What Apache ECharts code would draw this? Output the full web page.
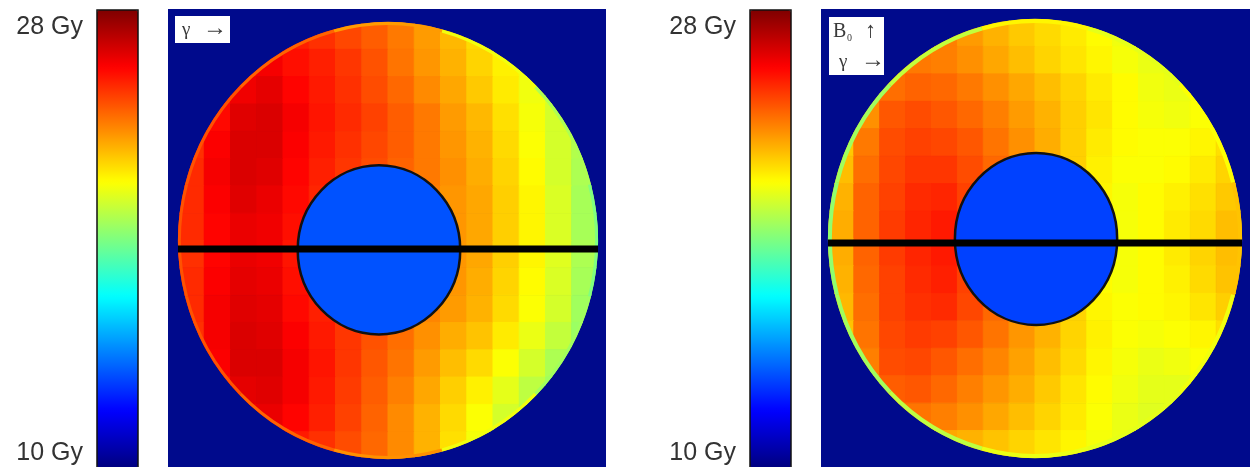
<!DOCTYPE html>
<html>
<head>
<meta charset="utf-8">
<script src="https://cdn.jsdelivr.net/npm/echarts@6/dist/echarts.min.js"></script>
</head>
<body style="margin: 0; background: #fff">
<div id="container" style="width: 1250px; height: 467px"></div>
<script>
// dose scale of both colour bars (Gy) and the two labelled ticks
const doseMin = 10;
const doseMax = 28;
const cbarTicks = [10, 28];

// disk radius in map units, dose grid of 16 x 16 cells across the disk, rows top -> bottom
const diskR = 10;
const _ = null;
const doseLeft = [
  [_, _, _, _, 25.2, 24.9, 24.5, 24.1, 23.6, 23.0, 22.5, 21.9, _, _, _, _],
  [_, _, 25.6, 25.9, 25.5, 25.2, 24.8, 24.3, 23.7, 23.1, 22.6, 22.0, 21.5, 21.0, _, _],
  [_, 25.4, 26.0, 26.2, 25.7, 25.3, 24.9, 24.4, 23.9, 23.3, 22.8, 22.2, 21.6, 21.0, 20.6, _],
  [_, 25.6, 26.3, 26.4, 25.9, 25.4, 25.0, 24.6, 24.1, 23.6, 23.0, 22.5, 21.8, 21.1, 20.5, _],
  [24.9, 25.8, 26.4, 26.4, 25.8, 25.3, 24.9, 24.5, 24.1, 23.6, 23.1, 22.6, 21.9, 21.2, 20.5, 19.9],
  [25.0, 25.9, 26.4, 26.3, 25.7, 25.2, 24.8, 24.4, 24.0, 23.6, 23.2, 22.7, 22.0, 21.3, 20.5, 19.8],
  [25.0, 25.8, 26.3, 26.1, 25.6, 25.1, 24.7, 24.3, 23.9, 23.5, 23.1, 22.8, 22.1, 21.4, 20.6, 19.7],
  [25.0, 25.7, 26.1, 26.0, 25.5, 25.1, 24.7, 24.3, 23.9, 23.5, 23.1, 22.8, 22.1, 21.4, 20.6, 19.7],
  [24.9, 25.7, 26.1, 26.0, 25.4, 25.1, 24.7, 24.3, 23.9, 23.5, 23.1, 22.8, 22.1, 21.4, 20.7, 19.8],
  [25.0, 25.8, 26.2, 26.1, 25.5, 25.1, 24.7, 24.3, 23.9, 23.5, 23.1, 22.7, 22.0, 21.3, 20.6, 19.7],
  [25.0, 25.9, 26.3, 26.2, 25.6, 25.2, 24.7, 24.3, 23.9, 23.4, 23.0, 22.6, 21.9, 21.2, 20.5, 19.6],
  [24.9, 25.9, 26.4, 26.3, 25.8, 25.3, 24.8, 24.3, 23.8, 23.2, 22.7, 22.3, 21.6, 20.9, 20.2, 19.5],
  [_, 25.8, 26.4, 26.4, 25.9, 25.4, 24.8, 24.2, 23.7, 23.0, 22.4, 21.9, 21.2, 20.5, 19.8, _],
  [_, 25.5, 26.2, 26.3, 25.9, 25.3, 24.7, 24.1, 23.5, 22.8, 22.1, 21.5, 20.8, 20.1, 19.6, _],
  [_, _, 25.9, 26.1, 25.7, 25.2, 24.6, 24.0, 23.3, 22.6, 21.9, 21.2, 20.5, 19.9, _, _],
  [_, _, _, _, 25.3, 24.9, 24.4, 23.9, 23.3, 22.6, 21.8, 21.1, _, _, _, _]
];
const doseRight = [
  [_, _, _, _, 23.5, 23.0, 22.6, 22.2, 21.9, 21.6, 21.3, 21.0, _, _, _, _],
  [_, _, 23.2, 23.6, 23.5, 23.2, 22.8, 22.4, 22.0, 21.7, 21.4, 21.1, 20.9, 20.8, _, _],
  [_, 22.8, 23.8, 24.0, 23.9, 23.6, 23.2, 22.8, 22.4, 22.0, 21.6, 21.3, 21.0, 20.9, 20.8, _],
  [_, 23.2, 24.2, 24.4, 24.2, 23.9, 23.5, 23.0, 22.6, 22.1, 21.7, 21.3, 21.1, 21.0, 21.2, _],
  [22.2, 23.6, 24.4, 24.6, 24.5, 24.2, 23.7, 23.2, 22.7, 22.1, 21.6, 21.3, 21.2, 21.2, 21.4, 21.8],
  [22.4, 23.8, 24.5, 24.8, 24.8, 24.4, 23.9, 23.3, 22.7, 22.1, 21.5, 21.2, 21.2, 21.3, 21.6, 22.0],
  [22.6, 24.0, 24.6, 25.0, 25.1, 24.6, 23.9, 23.2, 22.5, 21.9, 21.4, 21.1, 21.3, 21.5, 21.8, 22.2],
  [22.7, 24.0, 24.7, 25.1, 25.3, 24.6, 23.9, 23.2, 22.5, 21.9, 21.3, 21.1, 21.3, 21.6, 21.9, 22.4],
  [22.7, 24.0, 24.7, 25.1, 25.3, 24.6, 23.9, 23.2, 22.5, 21.9, 21.3, 21.1, 21.3, 21.6, 22.0, 22.4],
  [22.6, 23.9, 24.6, 25.0, 25.2, 24.6, 23.9, 23.2, 22.5, 21.9, 21.3, 21.1, 21.3, 21.5, 21.9, 22.3],
  [22.5, 23.8, 24.6, 24.9, 25.0, 24.5, 23.9, 23.2, 22.6, 22.0, 21.4, 21.2, 21.3, 21.4, 21.7, 22.1],
  [22.3, 23.7, 24.5, 24.7, 24.6, 24.2, 23.7, 23.1, 22.6, 22.0, 21.5, 21.2, 21.1, 21.2, 21.4, 21.8],
  [_, 23.5, 24.4, 24.5, 24.2, 23.8, 23.4, 22.9, 22.4, 21.9, 21.4, 21.1, 20.9, 21.0, 21.2, _],
  [_, 23.2, 24.1, 24.2, 23.9, 23.5, 23.1, 22.7, 22.2, 21.7, 21.3, 21.0, 20.8, 20.8, 21.0, _],
  [_, _, 23.5, 23.7, 23.5, 23.2, 22.8, 22.4, 22.0, 21.6, 21.2, 20.9, 20.7, 20.7, _, _],
  [_, _, _, _, 22.8, 22.6, 22.3, 22.0, 21.7, 21.4, 21.1, 20.9, _, _, _, _]
];

// dose along the disk edge, 12 sectors of 30 deg, starting at 3 o'clock, counter-clockwise
const rimLeft = [19.0, 19.8, 21.0, 23.0, 24.0, 24.3, 24.3, 24.3, 24.0, 23.2, 21.0, 19.6];
const rimRight = [22.3, 21.2, 20.8, 21.4, 20.2, 19.6, 19.3, 19.6, 20.1, 20.9, 20.8, 21.0];

// inner insert: centre x, centre y, radius (map units) and its dose
const innerLeft = [-0.43, -0.43, 3.87, 13.7];
const innerRight = [0.05, -0.02, 3.92, 13.4];

// height of the black profile line
const profileY = [-0.39, -0.2];

const jet = ['#00007f', '#0000ff', '#007fff', '#00ffff', '#7fff7f', '#ffff00', '#ff7f00', '#ff0000', '#7f0000'];

// where each map sits on the page (px): panel box and disk centre / radii
const panels = [
  {left: 168, top: 9, width: 438, height: 458, cx: 388, cy: 240.5, rx: 210, ry: 218.5, rimW: 3, bar: 97},
  {left: 821, top: 9, width: 429, height: 458, cx: 1035, cy: 238.5, rx: 207, ry: 219.5, rimW: 4, bar: 750}
];

const cell = 2 * diskR / doseLeft[0].length;

function cellData(grid) {
  const out = [];
  grid.forEach((row, r) => {
    row.forEach((v, c) => {
      if (v !== null) out.push([-diskR + cell * (c + 0.5), diskR - cell * (r + 0.5), v]);
    });
  });
  return out;
}

function rimData(rim) {
  return rim.map((v, i) => [0, 0, v, i * 360 / rim.length]);
}

function renderCell(params, api) {
  const p = api.coord([api.value(0), api.value(1)]);
  const s = api.size([cell, cell]);
  const c = api.coord([0, 0]);
  const r = api.size([diskR, diskR]);
  const color = api.visual('color');
  return {
    type: 'rect',
    shape: {x: p[0] - s[0] / 2, y: p[1] - s[1] / 2, width: s[0], height: s[1]},
    style: {fill: color, stroke: color, lineWidth: 1},
    clipPath: {type: 'ellipse', shape: {cx: c[0], cy: c[1], rx: r[0], ry: r[1]}}
  };
}

function renderRim(width, count) {
  return function (params, api) {
    const c = api.coord([api.value(0), api.value(1)]);
    const r = api.size([diskR, diskR]);
    const a = api.value(3) * Math.PI / 180;
    const half = Math.PI / count;
    return {
      type: 'arc',
      shape: {cx: c[0], cy: c[1], r: r[0] - width / 2, startAngle: -a - half, endAngle: -a + half, clockwise: true},
      style: {stroke: api.visual('color'), lineWidth: width, fill: 'none'},
      originX: c[0],
      originY: c[1],
      scaleY: r[1] / r[0]
    };
  };
}

function renderInner(params, api) {
  const c = api.coord([api.value(0), api.value(1)]);
  const r = api.size([api.value(3), api.value(3)]);
  return {
    type: 'ellipse',
    shape: {cx: c[0], cy: c[1], rx: r[0], ry: r[1]},
    style: {fill: api.visual('color'), stroke: '#111', lineWidth: 2.5}
  };
}

const grids = [], xAxes = [], yAxes = [], series = [], visualMaps = [];
const doseGrids = [doseLeft, doseRight];
const rims = [rimLeft, rimRight];
const inners = [innerLeft, innerRight];

panels.forEach((p, i) => {
  grids.push({left: p.left, top: p.top, width: p.width, height: p.height, show: true,
    backgroundColor: '#000a8c', borderWidth: 0, outerBoundsMode: 'none'});
  xAxes.push({gridIndex: i, type: 'value', show: false,
    min: (p.left - p.cx) / p.rx * diskR, max: (p.left + p.width - p.cx) / p.rx * diskR});
  yAxes.push({gridIndex: i, type: 'value', show: false,
    min: (p.cy - p.top - p.height) / p.ry * diskR, max: (p.cy - p.top) / p.ry * diskR});
  const base = series.length;
  series.push({type: 'custom', xAxisIndex: i, yAxisIndex: i, renderItem: renderCell,
    data: cellData(doseGrids[i]), silent: true});
  series.push({type: 'custom', xAxisIndex: i, yAxisIndex: i, renderItem: renderRim(p.rimW, rims[i].length),
    data: rimData(rims[i]), silent: true});
  const inn = inners[i];
  series.push({type: 'custom', xAxisIndex: i, yAxisIndex: i, renderItem: renderInner,
    data: [[inn[0], inn[1], inn[3], inn[2]]], silent: true});
  series.push({type: 'line', xAxisIndex: i, yAxisIndex: i, symbol: 'none', silent: true,
    lineStyle: {color: '#000', width: 7},
    data: [[-diskR, profileY[i]], [diskR, profileY[i]]]});
  visualMaps.push({type: 'continuous', min: doseMin, max: doseMax, dimension: 2,
    seriesIndex: [base, base + 1, base + 2], left: p.bar, top: 10, itemWidth: 41, itemHeight: 458,
    padding: 0, calculable: false, hoverLink: false, inRange: {color: jet}});
});

// colour bar frames carry the Gy labels
panels.forEach((p, i) => {
  grids.push({left: p.bar, top: 10, width: 41, height: 458, show: true, z: 10, outerBoundsMode: 'none',
    backgroundColor: 'transparent', borderColor: '#111', borderWidth: 1.5});
  xAxes.push({gridIndex: 2 + i, type: 'value', show: false, min: 0, max: 1});
  yAxes.push({gridIndex: 2 + i, type: 'value', min: doseMin, max: doseMax, interval: 2,
    axisLine: {show: false}, axisTick: {show: false}, splitLine: {show: false},
    axisLabel: {
      margin: 14, showMinLabel: true, showMaxLabel: true,
      formatter: function (v) {
        if (cbarTicks.indexOf(v) < 0) return '';
        return (v === doseMax ? '{hi|' : '{lo|') + v + ' Gy}';
      },
      rich: {
        hi: {fontFamily: 'Liberation Sans', fontSize: 25, color: '#333', padding: [34, 0, 0, 0]},
        lo: {fontFamily: 'Liberation Sans', fontSize: 25, color: '#333', padding: [0, 0, 30, 0]}
      }
    }});
});

const serif = 'Liberation Serif, DejaVu Serif, serif';
const labelText = (text, x, y, size) => ({type: 'text', x: x, y: y,
  style: {text: text, fontFamily: serif, fontSize: size, fill: '#3a3a3a', verticalAlign: 'middle'}});

const option = {
  animation: false,
  grid: grids,
  xAxis: xAxes,
  yAxis: yAxes,
  visualMap: visualMaps,
  series: series,
  graphic: [
    {type: 'group', left: 175, top: 16, children: [
      {type: 'rect', shape: {x: 0, y: 0, width: 55, height: 27}, style: {fill: '#fff'}},
      labelText('γ', 7, 14, 19),
      labelText('→', 28, 13, 24)
    ]},
    {type: 'group', left: 829, top: 17, children: [
      {type: 'rect', shape: {x: 0, y: 0, width: 55, height: 58}, style: {fill: '#fff'}},
      labelText('B', 4, 15, 20),
      labelText('0', 18, 21, 10),
      labelText('↑', 36, 14, 22),
      labelText('γ', 10, 45, 19),
      labelText('→', 32, 44, 24)
    ]}
  ]
};

const chart = echarts.init(document.getElementById('container'));
chart.setOption(option);
</script>
</body>
</html>
